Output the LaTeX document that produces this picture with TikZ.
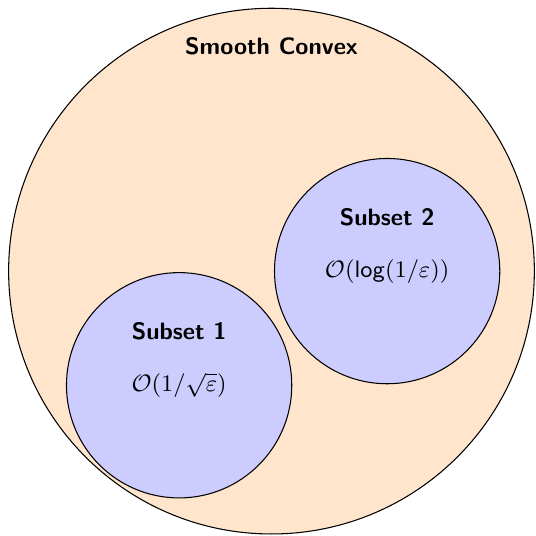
\documentclass[tikz,border=0pt]{standalone}
\usepackage{xcolor}
\usepackage{amsmath}
\usepackage{amssymb}
\usepackage{tikz}

\begin{document}
\begin{tikzpicture}[font=\sffamily\small]
			\useasboundingbox (-3.615,-3.514) rectangle (3.522,3.61);
			\coordinate (o) at (0,0);
			\coordinate (sa) at (-1.23,-1.52);
			\coordinate (sb) at (1.54,0);
			%
			\coordinate (ot) at (0,3);
			\coordinate (sat) at (-1.23,-0.8);
			\coordinate (sbt) at (1.54,0.72);
			% Outer set
			\draw[thin, fill=orange!20] (o) circle (3.5);
			% Subsets
			\draw[thin, fill=blue!20] (sa) circle (1.5);
			\draw[thin, fill=blue!20] (sb) circle (1.5);
			% Labels
			\node (smooth) at (ot) {\bfseries Smooth Convex};
			\node (suba) at (sat) {\bfseries Subset 1};
			\node (subb) at (sbt) {\bfseries Subset 2};
			\node (ratea) at (sa) {$\mathcal{O}(1/\sqrt{\varepsilon})$};
			\node (rateb) at (sb) {$\mathcal{O}(\mathsf{log}(1/\varepsilon))$};
		\end{tikzpicture}
\end{document}
